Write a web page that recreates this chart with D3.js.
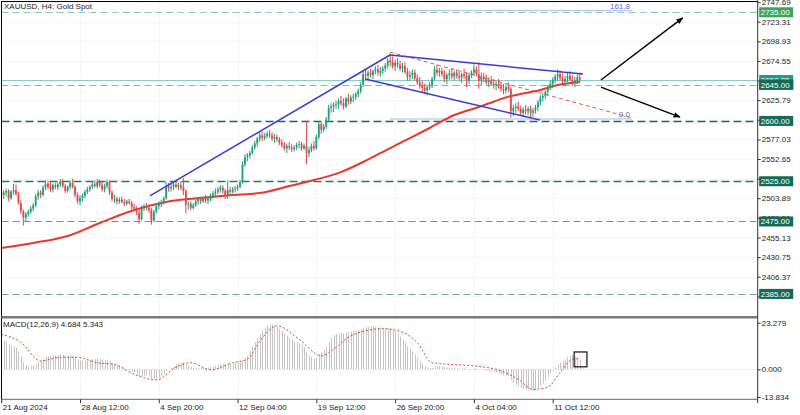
<!DOCTYPE html>
<html><head><meta charset="utf-8">
<script src="https://cdn.jsdelivr.net/npm/d3@7"></script>
<style>body{margin:0;background:#fff;}svg{display:block;font-family:"Liberation Sans",Arial,sans-serif;}</style>
</head><body><svg id="c" width="800" height="415"></svg>
<script>
// ---------------- DATA ----------------
const title = "XAUUSD, H4:  Gold Spot";
const macdTitle = "MACD(12,26,9) 4.684 5.343";
const timeLabels = ["21 Aug 2024","28 Aug 12:00","4 Sep 20:00","12 Sep 04:00","19 Sep 12:00","26 Sep 20:00","4 Oct 04:00","11 Oct 12:00"];
const timeLabelBars = [0,32,64,96,128,160,192,224];
const priceTicks = [2747.69,2723.31,2698.93,2674.55,2650.17,2625.79,2601.41,2577.03,2552.65,2528.27,2503.89,2479.51,2455.13,2430.75,2406.37,2381.99];
const macdTicks = [23.279,0,-13.834];
// horizontal levels
const levelPrices = [2735.00,2650.85,2645.00,2600.00,2525.00,2475.00,2385.00];
const levelLabels = ["2735.00","2650.85","2645.00","2600.00","2525.00","2475.00","2385.00"];
// candles [open, high, low, close]
const ohlc = [
[2512,2516,2505,2508],[2508,2514,2503,2511],[2511,2516,2506,2513],[2513,2515,2500,2504],[2504,2514,2502,2512],
[2512,2522,2508,2514],[2514,2521,2507,2509],[2509,2512,2496,2498],[2498,2502,2484,2488],[2488,2490,2470,2480],
[2480,2487,2475,2484],[2484,2490,2481,2487],[2487,2494,2484,2491],[2491,2498,2488,2495],[2495,2509,2493,2506],
[2506,2514,2502,2511],[2511,2514,2504,2508],[2508,2520,2506,2517],[2517,2526,2514,2522],[2522,2526,2515,2518],
[2518,2524,2512,2515],[2515,2522,2511,2520],[2520,2523,2515,2518],[2518,2524,2514,2521],[2521,2528,2518,2525],
[2525,2528,2517,2519],[2519,2522,2510,2513],[2513,2520,2511,2518],[2518,2526,2515,2523],[2523,2528,2516,2518],
[2518,2520,2505,2508],[2508,2511,2497,2500],[2500,2508,2495,2504],[2504,2510,2500,2507],[2507,2514,2504,2512],
[2512,2518,2509,2515],[2515,2520,2512,2518],[2518,2524,2515,2521],[2521,2526,2517,2519],[2519,2528,2516,2524],
[2524,2527,2518,2520],[2520,2524,2512,2515],[2515,2522,2511,2519],[2519,2527,2516,2524],[2524,2526,2508,2511],
[2511,2514,2500,2503],[2503,2508,2498,2503],[2503,2506,2496,2500],[2500,2505,2497,2502],[2502,2506,2498,2499],
[2499,2503,2494,2497],[2497,2502,2495,2500],[2500,2503,2496,2498],[2498,2501,2490,2493],[2493,2497,2488,2491],
[2491,2494,2483,2486],[2486,2490,2472,2478],[2478,2495,2476,2492],[2492,2497,2488,2494],[2494,2498,2489,2492],
[2492,2496,2486,2489],[2489,2492,2471,2476],[2476,2490,2474,2487],[2487,2496,2485,2494],[2494,2500,2490,2497],
[2497,2502,2493,2499],[2499,2506,2496,2504],[2504,2524,2502,2519],[2519,2523,2512,2516],[2516,2522,2512,2518],
[2518,2524,2514,2521],[2521,2525,2516,2518],[2518,2523,2514,2520],[2520,2525,2514,2517],[2517,2529,2508,2513],
[2513,2515,2485,2496],[2496,2500,2490,2497],[2497,2500,2489,2492],[2492,2498,2490,2495],[2495,2502,2493,2500],
[2500,2505,2496,2503],[2503,2506,2497,2500],[2500,2506,2498,2504],[2504,2508,2498,2501],[2501,2506,2497,2503],
[2503,2510,2500,2507],[2507,2513,2504,2510],[2510,2516,2505,2512],[2512,2518,2509,2515],[2515,2520,2511,2517],
[2517,2520,2510,2513],[2513,2516,2503,2508],[2508,2526,2503,2514],[2514,2518,2508,2512],[2512,2518,2510,2515],
[2515,2519,2511,2516],[2516,2521,2513,2518],[2518,2527,2516,2524],[2524,2550,2522,2546],[2546,2559,2543,2555],
[2555,2560,2550,2557],[2557,2563,2553,2560],[2560,2570,2558,2567],[2567,2575,2564,2572],[2572,2580,2568,2578],
[2578,2586,2574,2582],[2582,2587,2575,2579],[2579,2585,2576,2581],[2581,2587,2578,2584],[2584,2589,2579,2582],
[2582,2586,2575,2578],[2578,2584,2573,2580],[2580,2583,2574,2577],[2577,2580,2570,2573],[2573,2577,2567,2570],
[2570,2574,2563,2566],[2566,2572,2560,2569],[2569,2574,2564,2567],[2567,2571,2561,2565],[2565,2570,2562,2567],
[2567,2573,2564,2570],[2570,2575,2566,2571],[2571,2574,2563,2566],[2566,2572,2564,2569],[2569,2600,2546,2560],
[2560,2568,2555,2564],[2564,2572,2561,2569],[2569,2575,2563,2566],[2566,2583,2564,2580],[2580,2600,2577,2596],
[2596,2598,2584,2589],[2589,2596,2586,2593],[2593,2605,2590,2602],[2602,2620,2599,2616],[2616,2622,2610,2618],
[2618,2623,2611,2620],[2620,2625,2615,2621],[2621,2628,2615,2625],[2625,2631,2619,2622],[2622,2628,2614,2618],
[2618,2630,2616,2628],[2628,2634,2620,2624],[2624,2632,2621,2629],[2629,2634,2623,2630],[2630,2636,2626,2633],
[2633,2640,2629,2637],[2637,2648,2634,2645],[2645,2662,2642,2658],[2658,2664,2651,2656],[2656,2663,2652,2660],
[2660,2665,2654,2657],[2657,2664,2652,2662],[2662,2668,2658,2664],[2664,2670,2656,2660],[2660,2667,2655,2662],
[2662,2668,2658,2665],[2665,2672,2661,2669],[2669,2678,2665,2675],[2675,2684,2668,2673],[2673,2680,2665,2668],
[2668,2676,2662,2672],[2672,2678,2666,2670],[2670,2675,2662,2665],[2665,2672,2660,2668],[2668,2673,2658,2661],
[2661,2666,2650,2655],[2655,2662,2650,2657],[2657,2664,2652,2660],[2660,2664,2650,2653],[2653,2658,2645,2648],
[2648,2655,2640,2644],[2644,2650,2636,2641],[2641,2646,2633,2638],[2638,2645,2632,2642],[2642,2648,2638,2645],
[2645,2655,2641,2652],[2652,2668,2650,2664],[2664,2670,2656,2660],[2660,2666,2655,2662],[2662,2666,2655,2658],
[2658,2663,2648,2652],[2652,2660,2646,2657],[2657,2664,2651,2659],[2659,2665,2652,2655],[2655,2662,2650,2660],
[2660,2664,2653,2656],[2656,2661,2650,2654],[2654,2660,2647,2658],[2658,2665,2652,2656],[2656,2660,2642,2650],
[2650,2660,2646,2657],[2657,2663,2653,2660],[2660,2670,2656,2664],[2664,2668,2655,2658],[2658,2673,2640,2650],
[2650,2660,2644,2655],[2655,2660,2648,2652],[2652,2658,2645,2648],[2648,2654,2642,2650],[2650,2656,2644,2646],
[2646,2652,2640,2644],[2644,2650,2638,2646],[2646,2652,2640,2643],[2643,2648,2636,2640],[2640,2646,2633,2638],
[2638,2645,2634,2642],[2642,2648,2636,2640],[2640,2642,2604,2612],[2612,2620,2606,2616],[2616,2622,2610,2618],
[2618,2624,2612,2615],[2615,2619,2606,2610],[2610,2617,2605,2614],[2614,2620,2608,2612],[2612,2618,2607,2615],
[2615,2619,2604,2610],[2610,2616,2605,2613],[2613,2620,2609,2617],[2617,2626,2612,2623],[2623,2632,2619,2629],
[2629,2634,2624,2631],[2631,2638,2627,2636],[2636,2645,2632,2642],[2642,2650,2638,2646],[2646,2654,2641,2651],
[2651,2658,2647,2655],[2655,2664,2650,2658],[2658,2663,2650,2653],[2653,2659,2645,2649],[2649,2656,2643,2652],
[2652,2660,2648,2656],[2656,2662,2650,2651],[2651,2657,2644,2648],[2648,2655,2642,2650],[2650,2658,2646,2654],
[2654,2660,2648,2651]
];
// moving average (read at sampled bars)
const maBars = [0,13,27,40,54,67,81,94,105,117,127,138,147,158,166,174,184,194,207,219,226,235];
const maValues = [2442.0,2448.3,2457.0,2473.1,2489.2,2499.2,2504.2,2507.9,2510.4,2519.0,2526.5,2536.4,2548.9,2566.3,2578.7,2591.2,2607.3,2617.3,2630.9,2638.4,2644.6,2648.4];
// MACD main (histogram), one per bar
const macdMain = [
15,14.5,14,12.5,12,11.5,11,9,6.5,3.5,
2,1.5,1.5,1.8,2.8,3.8,4.2,5,6,6.5,
6.6,7,7,7.2,7.5,7.3,6.8,6.8,7,6.8,
6,5,4.5,4.2,4.3,4.5,4.8,5,5,5.3,
5.2,4.8,4.7,4.9,4.2,3.2,2.5,1.8,1.4,0.9,
0.3,0,-0.4,-1,-1.6,-2.3,-3.4,-3.3,-3.2,-3.3,
-3.6,-4.8,-5,-4.6,-4,-3.4,-2.6,-1,0,0.8,
1.8,2.4,3,3.3,3.6,2.5,1.9,1.2,0.8,0.7,
0.8,0.7,0.8,0.7,0.7,1,1.4,1.8,2.2,2.5,
2.6,2.4,2.7,2.8,3,3.2,3.4,3.5,4.5,5.5,
6.5,9,11.5,13.5,15.5,17.5,19,20.5,21.8,22.5,
22.3,21.8,21,20,19,17.8,16.8,15.8,14.8,14,
13.5,13,12,11,8.5,7,6,5.2,5.5,7.5,
8.5,9.5,11,13.5,15.5,17,17.6,18,18.2,18,
18.4,18.6,18.8,19,19.2,19.5,19.9,20.5,21,21.3,
21.4,21.4,21.2,21,20.8,20.5,20.4,20.5,20.3,19.8,
19,18,16.5,15,13.5,11.5,10,8.8,7.4,5.8,
4.2,2.8,1.5,0.9,0.6,0.7,1.3,1.5,1.6,1.4,
1,0.9,0.9,0.7,0.8,0.7,0.5,0.5,0.5,0.1,
0.1,0.2,0.5,0.4,-0.1,-0.2,-0.4,-0.7,-0.8,-1.1,
-1.5,-1.7,-2,-2.5,-3,-3.2,-3.5,-5.5,-6.8,-7.6,
-8.3,-9.2,-9.8,-10.2,-10.5,-10.8,-10.8,-10.4,-9.5,-8.2,
-7,-5.5,-3.8,-2.2,-0.7,0.8,2.4,3.4,4.2,5,
6,6.8,7,6.4,5.6,4.684
];
// MACD signal (read at sampled bars)
const sigBars = [0,8,16,24,31,39,46,54,63,71,77,85,94,100,105,112,121,130,135,142,155,162,169,175,182,192,203,210,216,222,227,232,235];
const sigValues = [17.5,13.5,4.2,6,6,3.3,2.5,-2.5,-5.3,1,3.3,-0.3,3.3,5,14,21.7,15,6.7,10,16.7,20.3,19,13.3,3.3,2.5,1.7,-0.8,-5,-10,-9,-1.5,5,5.343];
// drawn objects: [bar1, price1, bar2, price2]
const channelLines = [[60.4,2506.7,157.9,2681.9],[157.9,2681.9,236.3,2658.3],[147.8,2652.1,218.8,2601.1]];
const fibTrend = [157.9,2685.6,256.2,2603.6];
const fibLevels = [0.0,161.8];
const fibBase = [2602.4,2685.6];
const fibSpan = [157.9,256.2];
const arrows = [[243.6,2650.9,276.8,2728.0],[243.6,2642.1,275.7,2604.8]];
const macdBox = [232.7,8.66,237.9,1.24];

// ---------------- DRAW ----------------
const svg = d3.select("#c");
const W = 800, H = 415;
const plotL = 1.5, plotR = 757.7, mainT = 1.5, mainB = 315.5, macdT = 318.5, macdB = 399.3;
const x = d3.scaleLinear().domain([0,224]).range([1.2,552.7]);
const y = d3.scaleLinear().domain([2406.37,2723.31]).range([276.7,21.7]);
const ym = d3.scaleLinear().domain([-13.834,23.279]).range([397.0,322.7]);

svg.append("rect").attr("width",W).attr("height",H).attr("fill","#fff");
svg.append("defs").append("clipPath").attr("id","mainClip").append("rect")
  .attr("x",plotL).attr("y",mainT).attr("width",plotR-plotL).attr("height",mainB-mainT);
svg.select("defs").append("clipPath").attr("id","macdClip").append("rect")
  .attr("x",plotL).attr("y",macdT).attr("width",plotR-plotL).attr("height",macdB-macdT);
svg.select("defs").append("marker").attr("id","arr").attr("viewBox","0 0 10 10").attr("refX",9).attr("refY",5)
  .attr("markerWidth",7).attr("markerHeight",7).attr("orient","auto").attr("markerUnits","userSpaceOnUse")
  .append("path").attr("d","M0,1 L10,5 L0,9 Z").attr("fill","#000");

// grid
const grid = svg.append("g").attr("stroke","#e4e4e4").attr("stroke-dasharray","1,2").attr("stroke-width",1);
priceTicks.forEach(p=>{ const yy=Math.round(y(p))+0.5; if(yy>mainT&&yy<mainB) grid.append("line").attr("x1",plotL).attr("x2",plotR).attr("y1",yy).attr("y2",yy);});
timeLabelBars.slice(1).forEach(b=>{ const xx=Math.round(x(b))+0.5;
  grid.append("line").attr("x1",xx).attr("x2",xx).attr("y1",mainT).attr("y2",mainB);
  grid.append("line").attr("x1",xx).attr("x2",xx).attr("y1",macdT).attr("y2",macdB);});
grid.append("line").attr("x1",plotL).attr("x2",plotR).attr("y1",Math.round(ym(0))+0.5).attr("y2",Math.round(ym(0))+0.5).attr("stroke","#cfcfcf");

// level lines
const levelStyle = [
  {stroke:"#86cfae",dash:"7,4",w:1,box:"#3aa65a"},
  {stroke:"#86cfc2",dash:null,w:1,box:"#1f9d8c"},
  {stroke:"#a8a8a8",dash:"7,4",w:1,box:"#156a55"},
  {stroke:"#1e6b56",dash:"8,4",w:1.6,box:"#156a55"},
  {stroke:"#2a7863",dash:"8,4",w:1.3,box:"#156a55"},
  {stroke:"#5f9f8c",dash:"7,4",w:1,box:"#156a55"},
  {stroke:"#6ea796",dash:"7,4",w:1,box:"#156a55"}
];
const main = svg.append("g").attr("clip-path","url(#mainClip)");
levelPrices.forEach((p,i)=>{
  const s=levelStyle[i]; const yy=Math.round(y(p))+0.5;
  const l=main.append("line").attr("x1",plotL).attr("x2",plotR).attr("y1",yy).attr("y2",yy)
    .attr("stroke",s.stroke).attr("stroke-width",s.w);
  if(s.dash) l.attr("stroke-dasharray",s.dash);
});

// fib objects
fibLevels.forEach(f=>{
  const p = fibBase[0] + (fibBase[1]-fibBase[0])*f/100;
  main.append("line").attr("x1",x(fibSpan[0])).attr("x2",x(fibSpan[1])).attr("y1",y(p)).attr("y2",y(p))
    .attr("stroke","#a9b6ec").attr("stroke-width",1);
  main.append("text").attr("x",x(fibSpan[1])-2).attr("y",y(p)-2).attr("text-anchor","end")
    .attr("font-size",8).attr("fill","#5a6ad6").text(f.toFixed(1));
});
main.append("line").attr("x1",x(fibTrend[0])).attr("y1",y(fibTrend[1])).attr("x2",x(fibTrend[2])).attr("y2",y(fibTrend[3]))
  .attr("stroke","#e4554f").attr("stroke-width",1).attr("stroke-dasharray","4,3");

// moving average
main.append("path").datum(maBars.map((b,i)=>[b,maValues[i]]))
  .attr("d",d3.line().x(d=>x(d[0])).y(d=>y(d[1])).curve(d3.curveMonotoneX))
  .attr("fill","none").attr("stroke","#e8392b").attr("stroke-width",2);

// candles
const bull="#1f9e78", bear="#e2474b";
const cg = main.append("g");
ohlc.forEach((d,i)=>{
  const [o,h,l,c]=d; const xx=x(i); const col = c>=o?bull:bear;
  cg.append("line").attr("x1",xx).attr("x2",xx).attr("y1",y(h)).attr("y2",y(l)).attr("stroke",col).attr("stroke-width",1);
  const top=y(Math.max(o,c)), bot=y(Math.min(o,c));
  cg.append("rect").attr("x",xx-0.9).attr("width",1.8).attr("y",top).attr("height",Math.max(0.8,bot-top)).attr("fill",col);
});

// channel lines
channelLines.forEach(t=>{
  main.append("line").attr("x1",x(t[0])).attr("y1",y(t[1])).attr("x2",x(t[2])).attr("y2",y(t[3]))
    .attr("stroke","#3b3bd8").attr("stroke-width",1.5);
});
// arrows
arrows.forEach(a=>{
  main.append("line").attr("x1",x(a[0])).attr("y1",y(a[1])).attr("x2",x(a[2])).attr("y2",y(a[3]))
    .attr("stroke","#000").attr("stroke-width",1.4).attr("marker-end","url(#arr)");
});

// MACD panel
const mg = svg.append("g").attr("clip-path","url(#macdClip)");
macdMain.forEach((v,i)=>{
  const xx=Math.round(x(i))+0.5;
  mg.append("line").attr("x1",xx).attr("x2",xx).attr("y1",ym(0)).attr("y2",ym(v)).attr("stroke","#c4c4c4").attr("stroke-width",1);
});
mg.append("path").datum(sigBars.map((b,i)=>[b,sigValues[i]]))
  .attr("d",d3.line().x(d=>x(d[0])).y(d=>ym(d[1])).curve(d3.curveMonotoneX))
  .attr("fill","none").attr("stroke","#e0403a").attr("stroke-width",1).attr("stroke-dasharray","2,2");
mg.append("rect").attr("x",x(macdBox[0])).attr("y",ym(macdBox[1])).attr("width",x(macdBox[2])-x(macdBox[0]))
  .attr("height",ym(macdBox[3])-ym(macdBox[1])).attr("fill","none").attr("stroke","#111").attr("stroke-width",1.2);

// frames
svg.append("line").attr("x1",plotL).attr("x2",plotL).attr("y1",mainT).attr("y2",macdB).attr("stroke","#000");
svg.append("line").attr("x1",plotL).attr("x2",plotR).attr("y1",mainT).attr("y2",mainT).attr("stroke","#000");
svg.append("rect").attr("x",plotL).attr("y",mainB+0.5).attr("width",plotR-plotL).attr("height",2.5).attr("fill","#7a7a7a");
svg.append("line").attr("x1",plotL).attr("x2",plotR).attr("y1",macdB).attr("y2",macdB).attr("stroke","#666");

// axes
const fontSz = 8;
const ay = svg.append("g").attr("transform",`translate(${plotR},0)`)
  .call(d3.axisRight(y).tickValues(priceTicks).tickFormat(d=>d.toFixed(2)).tickSize(3).tickPadding(1));
const am = svg.append("g").attr("transform",`translate(${plotR},0)`)
  .call(d3.axisRight(ym).tickValues(macdTicks).tickFormat(d=>d.toFixed(3)).tickSize(3).tickPadding(1));
const ax = svg.append("g").attr("transform",`translate(0,${macdB})`)
  .call(d3.axisBottom(x).tickValues(timeLabelBars).tickFormat((d,i)=>timeLabels[i]).tickSize(4).tickPadding(1));
[ay,am,ax].forEach(g=>{
  g.select(".domain").remove();
  g.selectAll("line").attr("stroke","#333");
  g.selectAll("text").attr("font-size",fontSz).attr("fill","#222").attr("font-family","'Liberation Sans',Arial,sans-serif");
});
ax.selectAll("text").attr("text-anchor","start").attr("x",1);
svg.append("line").attr("x1",plotR).attr("x2",plotR).attr("y1",0).attr("y2",403).attr("stroke","#333");

// level label boxes
levelPrices.forEach((p,i)=>{
  const yy=y(p); const s=levelStyle[i];
  svg.append("rect").attr("x",plotR+1.5).attr("y",yy-5).attr("width",34).attr("height",10).attr("fill",s.box);
  svg.append("text").attr("x",plotR+3).attr("y",yy+3).attr("font-size",fontSz).attr("fill","#fff").text(levelLabels[i]);
});
// order fix: redraw 2645 above 2650
{
  const i=2, yy=y(levelPrices[i]);
  svg.append("rect").attr("x",plotR+1.5).attr("y",yy-5).attr("width",34).attr("height",10).attr("fill",levelStyle[i].box);
  svg.append("text").attr("x",plotR+3).attr("y",yy+3).attr("font-size",fontSz).attr("fill","#fff").text(levelLabels[i]);
}

// titles
svg.append("text").attr("x",4).attr("y",9).attr("font-size",fontSz).attr("fill","#222").text(title);
svg.append("text").attr("x",3).attr("y",327).attr("font-size",fontSz).attr("fill","#222").text(macdTitle);
</script></body></html>
